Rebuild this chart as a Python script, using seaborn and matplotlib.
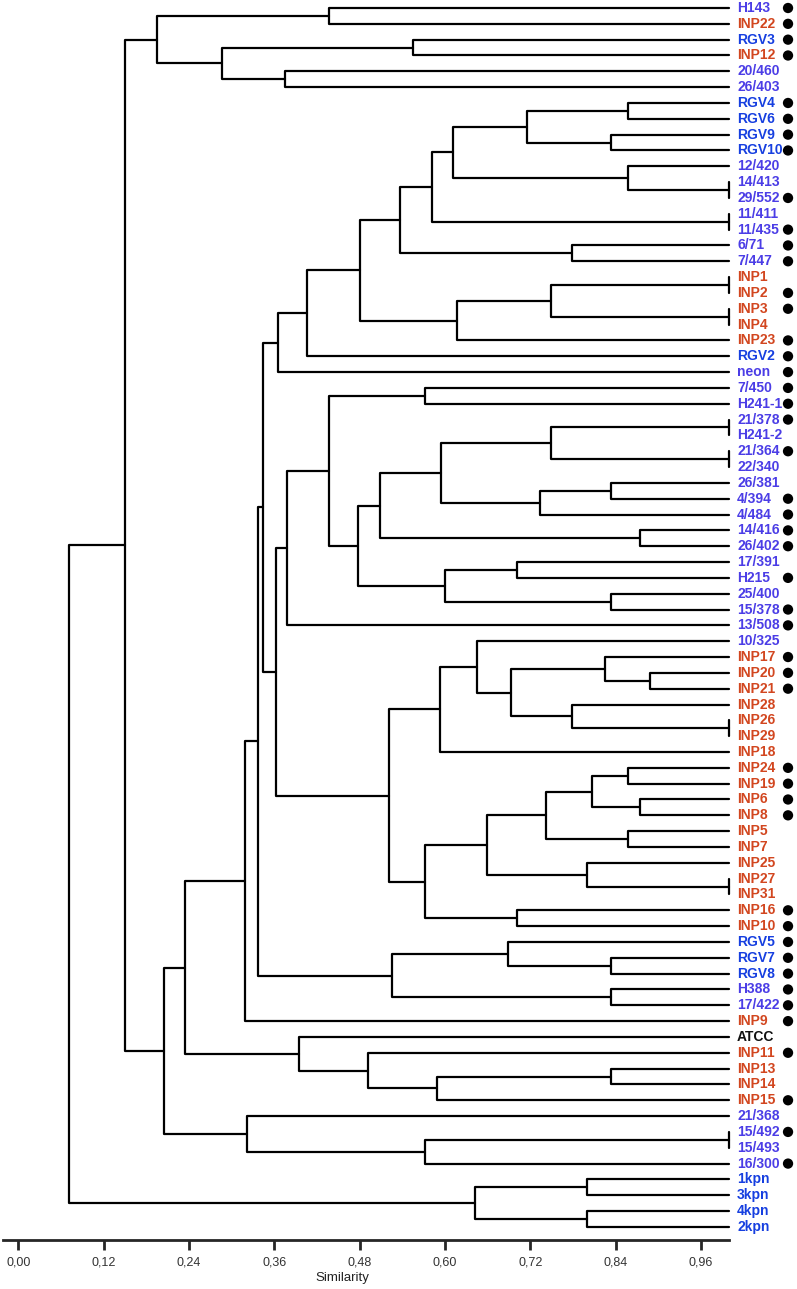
import numpy as np
import pandas as pd
import seaborn as sns
import matplotlib.pyplot as plt

# leaf order top -> bottom
leaves = ["H143", "INP22", "RGV3", "INP12", "20/460", "26/403", "RGV4", "RGV6",
          "RGV9", "RGV10", "12/420", "14/413", "29/552", "11/411", "11/435", "6/71",
          "7/447", "INP1", "INP2", "INP3", "INP4", "INP23", "RGV2", "neon",
          "7/450", "H241-1", "21/378", "H241-2", "21/364", "22/340", "26/381", "4/394",
          "4/484", "14/416", "26/402", "17/391", "H215", "25/400", "15/378", "13/508",
          "10/325", "INP17", "INP20", "INP21", "INP28", "INP26", "INP29", "INP18",
          "INP24", "INP19", "INP6", "INP8", "INP5", "INP7", "INP25", "INP27",
          "INP31", "INP16", "INP10", "RGV5", "RGV7", "RGV8", "H388", "17/422",
          "INP9", "ATCC", "INP11", "INP13", "INP14", "INP15", "21/368", "15/492",
          "15/493", "16/300", "1kpn", "3kpn", "4kpn", "2kpn"]

# v = violet, b = blue, o = orange, k = black
leaf_group = ["v", "o", "b", "o", "v", "v", "b", "b",
              "b", "b", "v", "v", "v", "v", "v", "v",
              "v", "o", "o", "o", "o", "o", "b", "v",
              "v", "v", "v", "v", "v", "v", "v", "v",
              "v", "v", "v", "v", "v", "v", "v", "v",
              "v", "o", "o", "o", "o", "o", "o", "o",
              "o", "o", "o", "o", "o", "o", "o", "o",
              "o", "o", "o", "b", "b", "b", "v", "v",
              "o", "k", "o", "o", "o", "o", "v", "v",
              "v", "v", "b", "b", "b", "b"]

dotted = ["H143", "INP22", "RGV3", "INP12", "RGV4", "RGV6", "RGV9", "RGV10",
          "29/552", "11/435", "6/71", "7/447", "INP2", "INP3", "INP23", "RGV2",
          "neon", "7/450", "H241-1", "21/378", "21/364", "4/394", "4/484", "14/416",
          "26/402", "H215", "15/378", "13/508", "INP17", "INP20", "INP21", "INP24",
          "INP19", "INP6", "INP8", "INP16", "INP10", "RGV5", "RGV7", "RGV8",
          "H388", "17/422", "INP9", "INP11", "INP15", "15/492", "16/300"]

# (node, left, right, similarity)
links = [
    ("a1", "H143", "INP22", 0.437), ("a2", "RGV3", "INP12", 0.555),
    ("a3", "20/460", "26/403", 0.375), ("a4", "a2", "a3", 0.286),
    ("a5", "a1", "a4", 0.195),
    ("b1", "RGV4", "RGV6", 0.858), ("b2", "RGV9", "RGV10", 0.834),
    ("b3", "b1", "b2", 0.716), ("b4", "14/413", "29/552", 1.0),
    ("b5", "12/420", "b4", 0.858), ("b6", "b3", "b5", 0.611),
    ("b7", "11/411", "11/435", 1.0), ("b8", "b6", "b7", 0.582),
    ("b9", "6/71", "7/447", 0.779), ("b10", "b8", "b9", 0.537),
    ("b11", "INP1", "INP2", 1.0), ("b12", "INP3", "INP4", 1.0),
    ("b13", "b11", "b12", 0.749), ("b14", "b13", "INP23", 0.617),
    ("b15", "b10", "b14", 0.481), ("b16", "b15", "RGV2", 0.406),
    ("b17", "b16", "neon", 0.365),
    ("c1", "7/450", "H241-1", 0.572), ("c2", "21/378", "H241-2", 1.0),
    ("c3", "21/364", "22/340", 1.0), ("c4", "c2", "c3", 0.749),
    ("c5", "26/381", "4/394", 0.833), ("c6", "c5", "4/484", 0.734),
    ("c7", "c4", "c6", 0.595), ("c8", "14/416", "26/402", 0.874),
    ("c9", "c7", "c8", 0.509), ("c10", "17/391", "H215", 0.702),
    ("c11", "25/400", "15/378", 0.833), ("c12", "c10", "c11", 0.600),
    ("c13", "c9", "c12", 0.478), ("c14", "c1", "c13", 0.437),
    ("c15", "c14", "13/508", 0.378),
    ("d1", "INP20", "INP21", 0.889), ("d2", "INP17", "d1", 0.825),
    ("d3", "INP26", "INP29", 1.0), ("d4", "INP28", "d3", 0.779),
    ("d5", "d2", "d4", 0.693), ("d6", "10/325", "d5", 0.645),
    ("d7", "d6", "INP18", 0.593), ("d8", "INP24", "INP19", 0.858),
    ("d9", "INP6", "INP8", 0.874), ("d10", "d8", "d9", 0.807),
    ("d11", "INP5", "INP7", 0.858), ("d12", "d10", "d11", 0.742),
    ("d13", "INP27", "INP31", 1.0), ("d14", "INP25", "d13", 0.800),
    ("d15", "d12", "d14", 0.659), ("d16", "INP16", "INP10", 0.702),
    ("d17", "d15", "d16", 0.572), ("d18", "d7", "d17", 0.522),
    ("d19", "c15", "d18", 0.362),
    ("e1", "b17", "d19", 0.344), ("e2", "RGV7", "RGV8", 0.834),
    ("e3", "RGV5", "e2", 0.689), ("e4", "H388", "17/422", 0.833),
    ("e5", "e3", "e4", 0.525), ("e6", "e1", "e5", 0.337),
    ("e7", "e6", "INP9", 0.319),
    ("f1", "INP13", "INP14", 0.833), ("f2", "f1", "INP15", 0.589),
    ("f3", "INP11", "f2", 0.492), ("f4", "ATCC", "f3", 0.395),
    ("f5", "e7", "f4", 0.234),
    ("g1", "15/492", "15/493", 1.0), ("g2", "g1", "16/300", 0.572),
    ("g3", "21/368", "g2", 0.322), ("g4", "f5", "g3", 0.205),
    ("h1", "a5", "g4", 0.150),
    ("k1", "1kpn", "3kpn", 0.800), ("k2", "4kpn", "2kpn", 0.800),
    ("k3", "k1", "k2", 0.642),
    ("root", "h1", "k3", 0.071),
]

tick_vals = [0.0, 0.12, 0.24, 0.36, 0.48, 0.60, 0.72, 0.84, 0.96]
tick_text = ["0,00", "0,12", "0,24", "0,36", "0,48", "0,60", "0,72", "0,84", "0,96"]

group_colors = {"v": "#4b3de6", "b": "#163fe0", "o": "#d2461f", "k": "#111111"}

# build U-shaped link paths
ypos = {name: i for i, name in enumerate(leaves)}
xpos = {name: 1.0 for name in leaves}
rows = []
for k, (node, left, right, sim) in enumerate(links):
    y1, y2 = ypos[left], ypos[right]
    rows += [(k, xpos[left], y1), (k, sim, y1), (k, sim, y2), (k, xpos[right], y2)]
    ypos[node] = (y1 + y2) / 2
    xpos[node] = sim
seg = pd.DataFrame(rows, columns=["link", "sim", "y"])

sns.set_style("white")
plt.rcParams["font.family"] = ["Liberation Sans", "DejaVu Sans"]

fig = plt.figure(figsize=(7.97, 12.89), dpi=100)
ax = fig.add_axes([0, 49 / 1289, 1, 1240 / 1289])

sns.lineplot(data=seg, x="sim", y="y", units="link", estimator=None, sort=False,
             color="black", lw=1.6, legend=False, ax=ax)

dots = pd.DataFrame({"x": 1.0826, "y": [leaves.index(n) for n in dotted]})
sns.scatterplot(data=dots, x="x", y="y", s=55, color="black", edgecolor="none",
                legend=False, ax=ax)

for i, name in enumerate(leaves):
    ax.text(1.011, i, name, color=group_colors[leaf_group[i]], fontsize=10,
            fontweight="bold", va="center", ha="left")

ax.set_xlim(-18.3 / 711, (797 - 18.3) / 711)
ax.set_ylim((1240 - 8) / 15.83, -8 / 15.83)

for s in ["top", "right", "left"]:
    ax.spines[s].set_visible(False)
ax.spines["bottom"].set_bounds(-0.021, 1.0)
ax.spines["bottom"].set_linewidth(2)
ax.set_yticks([])
ax.set_xticks(tick_vals)
ax.set_xticklabels(tick_text)
ax.tick_params(axis="x", direction="out", length=7, width=2, labelsize=9,
               labelcolor="#333333", pad=5, bottom=True)
ax.set_ylabel("")
ax.set_xlabel("Similarity", fontsize=9.5, color="#222222")
ax.xaxis.set_label_coords(342 / 797, -32 / 1240)

fig.savefig("out.png", dpi=100)
